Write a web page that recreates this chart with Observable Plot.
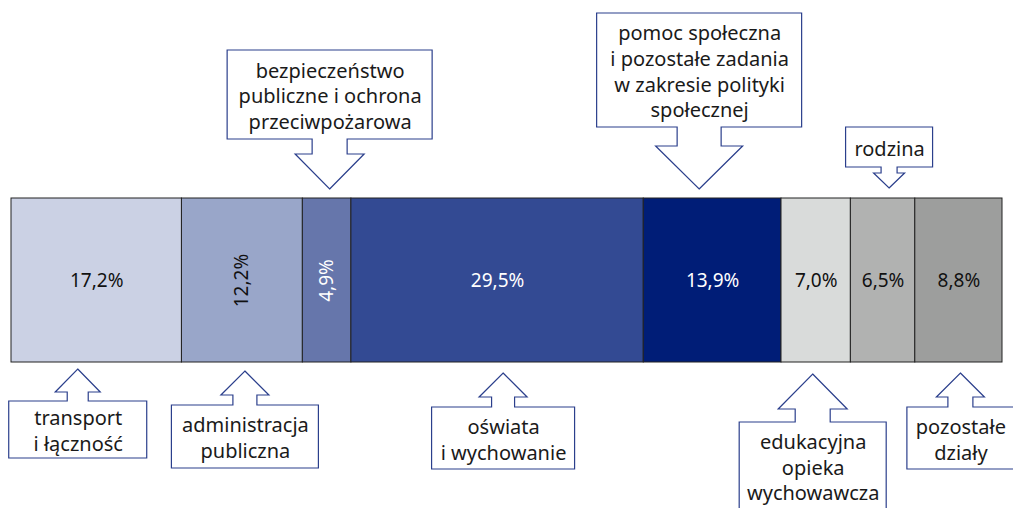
<!DOCTYPE html>
<html>
<head>
<meta charset="utf-8">
<script src="https://cdn.jsdelivr.net/npm/d3@7"></script>
<script src="https://cdn.jsdelivr.net/npm/@observablehq/plot@0.6"></script>
<style>
  html, body { margin: 0; padding: 0; background: #fff; overflow: hidden; }
  #chart svg { display: block; }
</style>
</head>
<body>
<div id="chart"></div>
<script>
// ---- data ----
const categories = [
  "transport i łączność",
  "administracja publiczna",
  "bezpieczeństwo publiczne i ochrona przeciwpożarowa",
  "oświata i wychowanie",
  "pomoc społeczna i pozostałe zadania w zakresie polityki społecznej",
  "edukacyjna opieka wychowawcza",
  "rodzina",
  "pozostałe działy"
];
const shares = [17.2, 12.2, 4.9, 29.5, 13.9, 7.0, 6.5, 8.8];
const calloutLabels = [
  "transport\ni łączność",
  "administracja\npubliczna",
  "bezpieczeństwo\npubliczne i ochrona\nprzeciwpożarowa",
  "oświata\ni wychowanie",
  "pomoc społeczna\ni pozostałe zadania\nw zakresie polityki\nspołecznej",
  "edukacyjna\nopieka\nwychowawcza",
  "rodzina",
  "pozostałe\ndziały"
];

// ---- styles / layout ----
const segmentColors = ["#cbd1e4", "#99a6c9", "#6676ab", "#334a93", "#001d77", "#d9dbda", "#b1b2b1", "#9d9e9d"];
const labelColors   = ["#111", "#111", "#fff", "#fff", "#fff", "#111", "#111", "#111"];
const labelRotate   = [0, -90, -90, 0, 0, 0, 0, 0];
const calloutSide   = ["bottom", "bottom", "top", "bottom", "top", "bottom", "top", "bottom"];
// callout geometry in pixels: tip offset, gap to bar, head length, head half-width, stem half-width, stem length, box width, box height, text nudge
const calloutGeom = [
  {dx: -18.5, gap: 7,  headH: 23, headW: 22.5, stemW: 10.5, stemH: 9,  w: 138, h: 57,  ty: 0},
  {dx: 3,     gap: 9,  headH: 24, headW: 24,   stemW: 12,   stemH: 10, w: 147, h: 63,  ty: 0},
  {dx: 3,     gap: 9,  headH: 35, headW: 34.5, stemW: 17.5, stemH: 15, w: 205, h: 89,  ty: 0},
  {dx: 6,     gap: 11, headH: 24, headW: 24,   stemW: 11.5, stemH: 10, w: 143, h: 62,  ty: 0},
  {dx: -13,   gap: 9,  headH: 43, headW: 43.5, stemW: 22,   stemH: 19, w: 205, h: 114, ty: 0},
  {dx: -3,    gap: 12, headH: 35, headW: 34.5, stemW: 17.5, stemH: 13, w: 147, h: 104, ty: -8},
  {dx: 6.5,   gap: 10, headH: 15, headW: 15.5, stemW: 8,    stemH: 6,  w: 87,  h: 40,  ty: 0},
  {dx: 2,     gap: 11, headH: 24, headW: 24,   stemW: 12.5, stemH: 10, w: 107, h: 62,  ty: 0}
];
const calloutStroke = "#2b3f8c";

// ---- derived table ----
const ends = d3.cumsum(shares);
const data = categories.map((name, i) => ({
  name,
  value: shares[i],
  mid: ends[i] - shares[i] / 2,
  label: shares[i].toFixed(1).replace(".", ",") + "%",
  color: segmentColors[i],
  textColor: labelColors[i],
  rotate: labelRotate[i],
  callout: calloutLabels[i],
  side: calloutSide[i],
  geom: calloutGeom[i]
}));

// custom mark: block-arrow callout outlines, anchored via the x scale
function calloutShapes(index, scales, values, dims) {
  const x = scales.x;
  const barTop = dims.marginTop;
  const barBottom = dims.height - dims.marginBottom;
  const g = d3.create("svg:g")
    .attr("fill", "white")
    .attr("stroke", calloutStroke)
    .attr("stroke-width", 1.2)
    .attr("stroke-linejoin", "miter");
  for (const d of data) {
    const c = d.geom;
    const cx = x(d.mid) + c.dx;
    const s = d.side === "top" ? -1 : 1;
    const tipY = d.side === "top" ? barTop - c.gap : barBottom + c.gap;
    const baseY = tipY + s * c.headH;
    const stemY = baseY + s * c.stemH;
    const farY = stemY + s * c.h;
    const pts = [
      [cx, tipY], [cx + c.headW, baseY], [cx + c.stemW, baseY], [cx + c.stemW, stemY],
      [cx + c.w / 2, stemY], [cx + c.w / 2, farY], [cx - c.w / 2, farY], [cx - c.w / 2, stemY],
      [cx - c.stemW, stemY], [cx - c.stemW, baseY], [cx - c.headW, baseY]
    ];
    g.append("path").attr("d", "M" + pts.map(p => p.join(",")).join("L") + "Z");
  }
  return g.node();
}

const calloutTexts = data.map(d => {
  const c = d.geom;
  const off = c.gap + c.headH + c.stemH + c.h / 2;
  return Plot.text([d], {
    x: "mid",
    text: "callout",
    frameAnchor: d.side,
    dx: c.dx,
    dy: (d.side === "top" ? -off : off) + c.ty,
    lineAnchor: "middle",
    textAnchor: "middle",
    lineHeight: 1.28,
    fontSize: 20,
    fill: "#1a1a1a"
  });
});

const chart = Plot.plot({
  width: 1013,
  height: 508,
  marginLeft: 11,
  marginRight: 11,
  marginTop: 198,
  marginBottom: 146,
  x: {domain: [0, 100], axis: null},
  style: {fontFamily: "'Noto Sans', sans-serif", background: "white", overflow: "visible"},
  marks: [
    Plot.barX(data, Plot.stackX({x: "value", fill: "color", stroke: "#222", strokeWidth: 1})),
    Plot.text(data, {
      x: "mid",
      text: "label",
      fill: "textColor",
      rotate: "rotate",
      fontSize: 19,
      frameAnchor: "middle"
    }),
    calloutShapes,
    ...calloutTexts
  ]
});
document.getElementById("chart").appendChild(chart);
</script>
</body>
</html>
